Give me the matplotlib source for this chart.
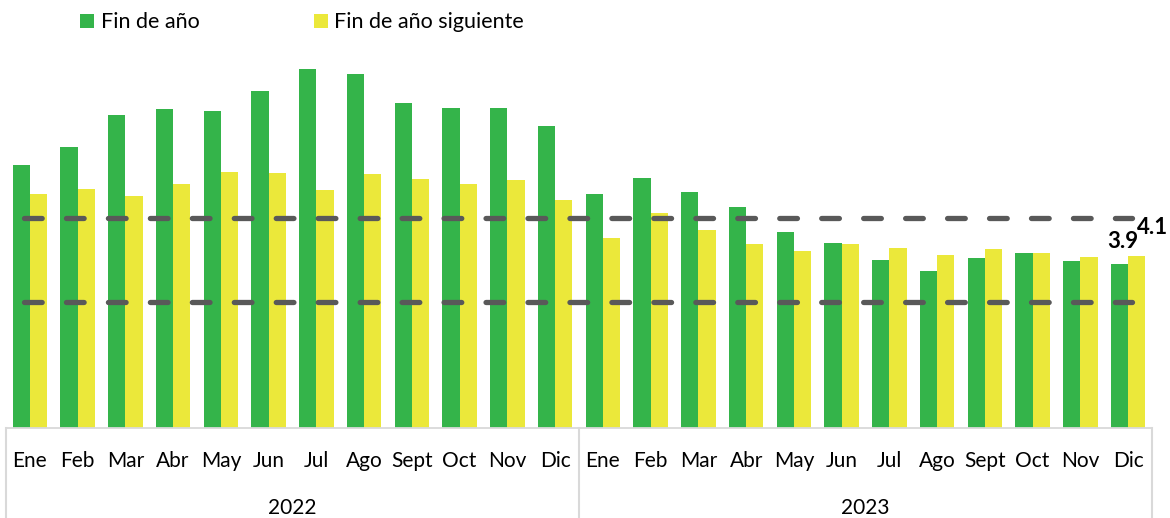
import matplotlib
matplotlib.use("Agg")
import matplotlib.pyplot as plt
import matplotlib.transforms as mtransforms
from matplotlib.patches import Patch
import numpy as np

plt.rcParams['font.family'] = ['Lato', 'DejaVu Sans']

# Expectativas de inflacion (%), encuesta mensual
meses = ['Ene', 'Feb', 'Mar', 'Abr', 'May', 'Jun', 'Jul', 'Ago', 'Sept', 'Oct', 'Nov', 'Dic']
anios = ['2022', '2023']
fin_anio = [6.25, 6.67, 7.43, 7.58, 7.54, 8.00, 8.53, 8.42, 7.72, 7.61, 7.60, 7.18,
            5.57, 5.95, 5.61, 5.26, 4.66, 4.40, 4.00, 3.74, 4.05, 4.17, 3.98, 3.90]
fin_anio_sig = [5.56, 5.68, 5.51, 5.79, 6.09, 6.06, 5.67, 6.03, 5.92, 5.81, 5.90, 5.42,
                4.52, 5.11, 4.71, 4.38, 4.22, 4.37, 4.28, 4.12, 4.26, 4.16, 4.06, 4.10]
rango_meta = [3, 5]

verde = '#34B44A'
amarillo = '#EBE83A'
gris = '#D9D9D9'

W, H = 1170, 518
fig = plt.figure(figsize=(W / 100, H / 100), dpi=100)
left, right = 6, 1152
bottom, top = 428.3, 49.3
ax = fig.add_axes([left / W, (H - bottom) / H, (right - left) / W, (bottom - top) / H])

n = len(fin_anio)
x = np.arange(n)
w = 0.363
ax.bar(x - w / 2, fin_anio, width=w, color=verde, zorder=2)
ax.bar(x + w / 2, fin_anio_sig, width=w, color=amarillo, zorder=2)

for v in rango_meta:
    ax.plot([-0.13, n - 1 + 0.08], [v, v], color='#595959', lw=3.8,
            dashes=(3.35, 4.6), dash_capstyle='round', zorder=3)

ax.set_xlim(-0.5, n - 0.5)
ax.set_ylim(0, 9)
ax.set_xticks([])
ax.set_yticks([])
for s in ax.spines.values():
    s.set_visible(False)

# etiquetas de datos del ultimo mes
ax.annotate(f'{fin_anio[-1]:.1f}', xy=(x[-1] - w / 2, fin_anio[-1]), xytext=(3, 16.5),
            textcoords='offset pixels', ha='center', va='baseline',
            fontsize=16, fontweight='bold', color='black', annotation_clip=False)
ax.annotate(f'{fin_anio_sig[-1]:.1f}', xy=(x[-1] + w / 2, fin_anio_sig[-1]), xytext=(16, 22),
            textcoords='offset pixels', ha='center', va='baseline',
            fontsize=16, fontweight='bold', color='black', annotation_clip=False)

# tabla de categorias (meses / anio)
trans = mtransforms.blended_transform_factory(ax.transData, ax.transAxes)
ax_h = bottom - top
ybot = -(H - bottom) / ax_h
ax.plot([-0.5, n - 0.5], [0, 0], color=gris, lw=1.3, transform=trans, clip_on=False)
for xv in [-0.5, 11.5, n - 0.5]:
    ax.plot([xv, xv], [0, ybot], color=gris, lw=1.5, transform=trans, clip_on=False)

y_mes = -(466.7 - bottom) / ax_h
y_anio = -(514 - bottom) / ax_h
for i in range(n):
    ax.text(x[i], y_mes, meses[i % 12], ha='center', va='baseline', fontsize=15,
            color='black', transform=trans)
for j, a in enumerate(anios):
    ax.text(j * 12 + 5.5, y_anio, a, ha='center', va='baseline', fontsize=15,
            color='black', transform=trans)

handles = [Patch(facecolor=verde, label='Fin de año'),
           Patch(facecolor=amarillo, label='Fin de año siguiente')]
fig.legend(handles=handles, loc='center left', bbox_to_anchor=(80 / W, 1 - 22.5 / H),
           ncol=2, frameon=False, fontsize=15.5, handlelength=0.66, handleheight=0.66,
           handletextpad=0.3, columnspacing=5.3, borderpad=0, borderaxespad=0)

fig.savefig('out.png', dpi=100)
